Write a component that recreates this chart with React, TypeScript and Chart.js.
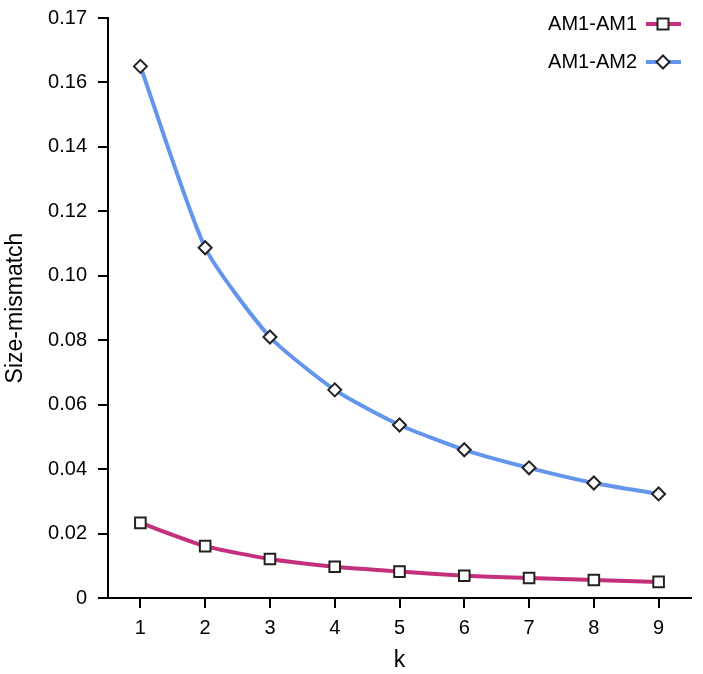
import { useEffect, useRef } from "react"
import { Chart, registerables } from "chart.js"

Chart.register(...registerables)

// k values on the x axis
const kLabels = ["1", "2", "3", "4", "5", "6", "7", "8", "9"]

// size-mismatch
const am1am1 = [0.0233, 0.0161, 0.0121, 0.0097, 0.0082, 0.0069, 0.0062, 0.0056, 0.005]
const am1am2 = [0.165, 0.1087, 0.081, 0.0646, 0.0537, 0.046, 0.0404, 0.0357, 0.0323]

// y ticks as printed (the top one reads 0.17)
const yTickValues = [0, 0.02, 0.04, 0.06, 0.08, 0.1, 0.12, 0.14, 0.16, 0.18]
const yTickLabels = ["0", "0.02", "0.04", "0.06", "0.08", "0.10", "0.12", "0.14", "0.16", "0.17"]

const PINK = "#c5307d"
const BLUE = "#6495ed"
const FONT = "'Liberation Sans', Arial, sans-serif"

// legend drawn at top-right: label, then a line with the marker on it
const legendPlugin = {
  id: "sideLegend",
  afterDraw(chart: Chart) {
    const ctx = chart.ctx
    ctx.save()
    chart.data.datasets.forEach((ds: any, i: number) => {
      const y = 24 + i * 38
      ctx.font = `20px ${FONT}`
      ctx.fillStyle = "#000"
      ctx.textAlign = "right"
      ctx.textBaseline = "middle"
      ctx.fillText(ds.label, 637, y)

      ctx.strokeStyle = ds.borderColor
      ctx.lineWidth = 4
      ctx.beginPath()
      ctx.moveTo(646, y)
      ctx.lineTo(681, y)
      ctx.stroke()

      ctx.fillStyle = "#fff"
      ctx.strokeStyle = "#222"
      ctx.lineWidth = 2
      const cx = 663
      if (ds.pointStyle === "rect") {
        ctx.fillRect(cx - 5.5, y - 5.5, 11, 11)
        ctx.strokeRect(cx - 5.5, y - 5.5, 11, 11)
      } else {
        ctx.beginPath()
        ctx.moveTo(cx, y - 6.5)
        ctx.lineTo(cx + 6.5, y)
        ctx.lineTo(cx, y + 6.5)
        ctx.lineTo(cx - 6.5, y)
        ctx.closePath()
        ctx.fill()
        ctx.stroke()
      }
    })
    ctx.restore()
  },
}

export default function App() {
  const chartRef = useRef<HTMLCanvasElement>(null)
  const chartInstance = useRef<Chart | null>(null)

  useEffect(() => {
    if (!chartRef.current) return

    if (chartInstance.current) {
      chartInstance.current.destroy()
    }

    const ctx = chartRef.current.getContext("2d")
    if (!ctx) return

    chartInstance.current = new Chart(ctx, {
      type: "line",
      data: {
        labels: kLabels,
        datasets: [
          {
            label: "AM1-AM1",
            data: am1am1,
            borderColor: PINK,
            borderWidth: 4,
            pointStyle: "rect",
            pointRadius: 7.5,
            pointBackgroundColor: "#fff",
            pointBorderColor: "#222",
            pointBorderWidth: 2,
            tension: 0.2,
          },
          {
            label: "AM1-AM2",
            data: am1am2,
            borderColor: BLUE,
            borderWidth: 4,
            pointStyle: "rectRot",
            pointRadius: 6.5,
            pointBackgroundColor: "#fff",
            pointBorderColor: "#222",
            pointBorderWidth: 2,
            tension: 0.2,
          },
        ],
      },
      options: {
        responsive: false,
        animation: false,
        layout: { padding: { top: 18, right: 12, left: 0, bottom: 0 } },
        scales: {
          x: {
            type: "category",
            offset: true,
            grid: {
              offset: false,
              drawOnChartArea: false,
              drawTicks: true,
              tickLength: 10,
              color: "#000",
              lineWidth: 2,
            },
            border: { display: true, color: "#000", width: 2 },
            ticks: {
              color: "#000",
              padding: 8,
              font: { family: FONT, size: 20 },
            },
            title: {
              display: true,
              text: "k",
              color: "#000",
              padding: { top: 0, bottom: 0 },
              font: { family: FONT, size: 23 },
            },
            afterFit(scale: any) {
              scale.height = 76
              scale.paddingLeft = 0
              scale.paddingRight = 0
            },
          },
          y: {
            min: 0,
            max: 0.18,
            afterBuildTicks(scale: any) {
              scale.ticks = yTickValues.map((v) => ({ value: v }))
            },
            grid: {
              drawOnChartArea: false,
              drawTicks: true,
              tickLength: 10,
              color: "#000",
              lineWidth: 2,
            },
            border: { display: true, color: "#000", width: 2 },
            ticks: {
              color: "#000",
              padding: 11,
              font: { family: FONT, size: 20 },
              callback: (_v: any, i: number) => yTickLabels[i],
            },
            title: {
              display: true,
              text: "Size-mismatch",
              color: "#000",
              padding: { top: 2, bottom: 0 },
              font: { family: FONT, size: 23 },
            },
            afterFit(scale: any) {
              scale.width = 108
              scale.paddingTop = 0
              scale.paddingBottom = 0
            },
          },
        },
        plugins: {
          legend: { display: false },
          tooltip: { enabled: false },
        },
      },
      plugins: [legendPlugin],
    })

    return () => {
      if (chartInstance.current) {
        chartInstance.current.destroy()
        chartInstance.current = null
      }
    }
  }, [])

  return (
    <div style={{ position: "fixed", left: 0, top: 0, width: 703, height: 674, background: "#fff" }}>
      <canvas ref={chartRef} width={703} height={674} />
    </div>
  )
}
